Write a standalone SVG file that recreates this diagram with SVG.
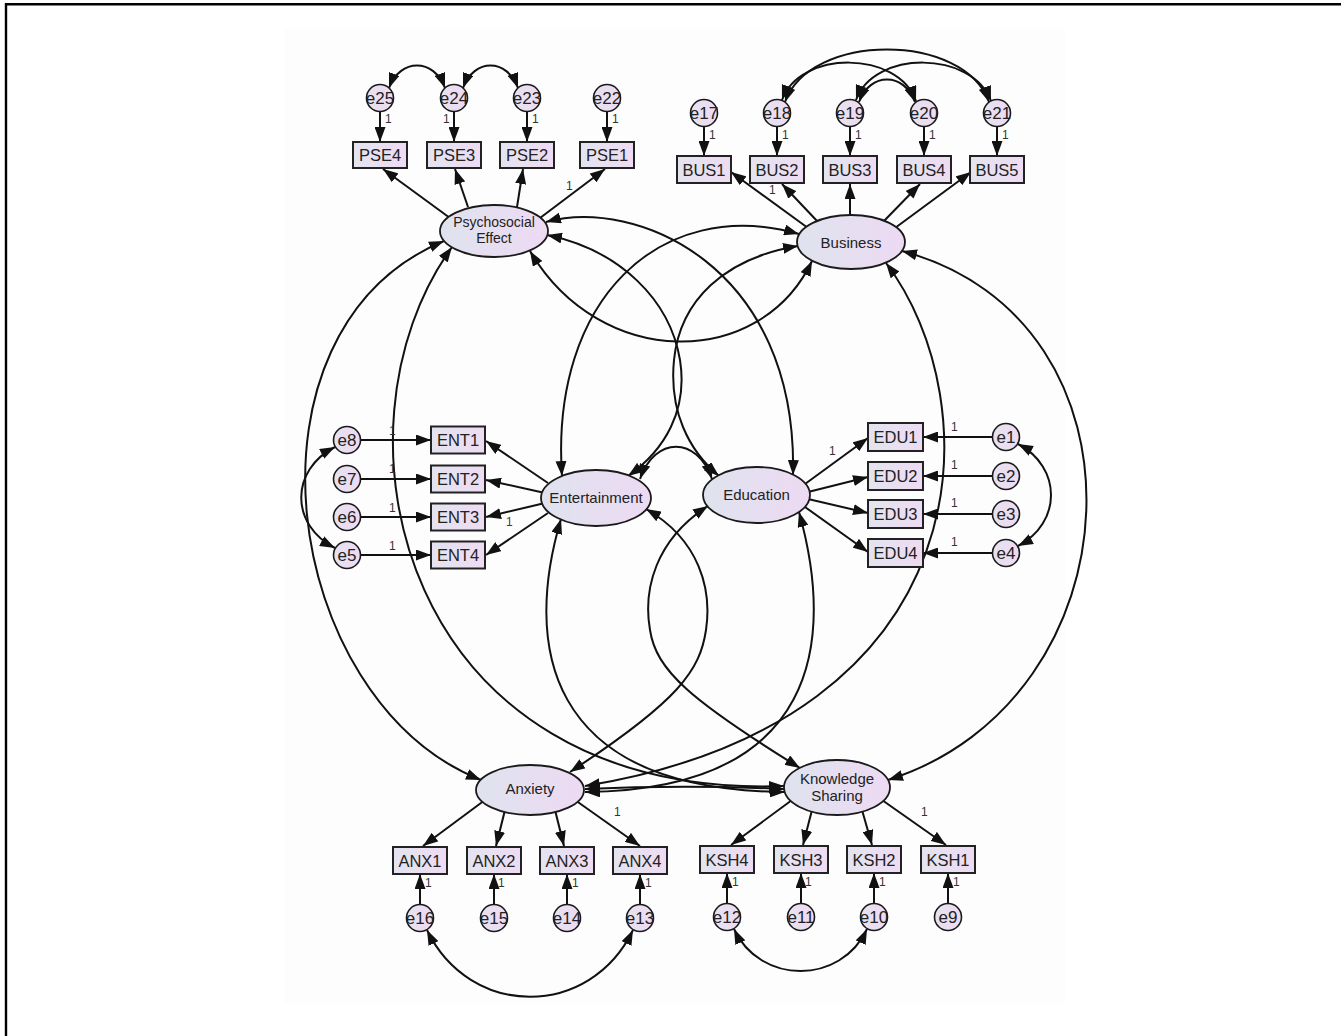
<svg xmlns="http://www.w3.org/2000/svg" width="1341" height="1036" viewBox="0 0 1341 1036">
<style>
.c{fill:none;stroke:#111;stroke-width:2}
.a{marker-end:url(#ah)}
.d{marker-start:url(#ah);marker-end:url(#ah)}
.box{fill:url(#gb);stroke:#222;stroke-width:2}
.lat{fill:url(#gl);stroke:#1a1a1a;stroke-width:1.8}
.err{fill:url(#ge);stroke:#1a1a1a;stroke-width:1.6}
text{font-family:"Liberation Sans",Arial,sans-serif;fill:#222;text-anchor:middle}
.bt{font-size:16.5px}
.et{font-size:17px}
.lt{font-size:15px}
.one{font-size:12px;fill:#333;text-anchor:start}
</style>
<defs>
<linearGradient id="gb" x1="0" x2="1" y1="0" y2="0"><stop offset="0" stop-color="#e3e4ef"/><stop offset="1" stop-color="#eedbf3"/></linearGradient>
<linearGradient id="gl" x1="0" x2="1" y1="0" y2="0"><stop offset="0" stop-color="#dfe3ee"/><stop offset="1" stop-color="#eddaf3"/></linearGradient>
<linearGradient id="ge" x1="0" x2="1" y1="0" y2="0"><stop offset="0" stop-color="#e6e2f0"/><stop offset="1" stop-color="#eedaf2"/></linearGradient>
<marker id="ah" viewBox="0 0 15 11" refX="15" refY="5.5" markerWidth="15" markerHeight="11" markerUnits="userSpaceOnUse" orient="auto-start-reverse"><path d="M0,0 L15,5.5 L0,11 z" fill="#111"/></marker>
</defs>
<rect x="0" y="0" width="1341" height="1036" fill="#fff"/>
<rect x="285" y="29" width="780" height="974" fill="#fdfdfd"/>
<path d="M6,1036 V4.3 H1341" fill="none" stroke="#000" stroke-width="2.4"/>

<g id="connectors">
<path class="c a" d="M380,111.5 V142"/><path class="c a" d="M454,111.5 V142"/><path class="c a" d="M527,111.5 V142"/><path class="c a" d="M607,111.5 V142"/>
<path class="c a" d="M704,126.5 V156"/><path class="c a" d="M777,126.5 V156"/><path class="c a" d="M850,126.5 V156"/><path class="c a" d="M924,126.5 V156"/><path class="c a" d="M997,126.5 V156"/>
<path class="c a" d="M360.5,440 H431"/><path class="c a" d="M360.5,479 H431"/><path class="c a" d="M360.5,517 H431"/><path class="c a" d="M360.5,555 H431"/>
<path class="c a" d="M992.5,437 H923"/><path class="c a" d="M992.5,476 H923"/><path class="c a" d="M992.5,514 H923"/><path class="c a" d="M992.5,553 H923"/>
<path class="c a" d="M420,904.5 V874"/><path class="c a" d="M494,904.5 V874"/><path class="c a" d="M567,904.5 V874"/><path class="c a" d="M640,904.5 V874"/>
<path class="c a" d="M727,903.5 V873"/><path class="c a" d="M801,903.5 V873"/><path class="c a" d="M874,903.5 V873"/><path class="c a" d="M948,903.5 V873"/>
<path class="c a" d="M450,218 L383,169"/><path class="c a" d="M468,207 L455,169"/><path class="c a" d="M517,207 L523,169"/><path class="c a" d="M540,218 L605,169"/>
<path class="c a" d="M808,228 L731,172"/><path class="c a" d="M818,222 L782,184"/><path class="c a" d="M850,218 V184"/><path class="c a" d="M883,222 L920,184"/><path class="c a" d="M895,228 L971,172"/>
<path class="c a" d="M548,483 L486,441"/><path class="c a" d="M545,493 L486,480"/><path class="c a" d="M545,503 L486,517"/><path class="c a" d="M548,513 L486,555"/>
<path class="c a" d="M805,484 L868,438"/><path class="c a" d="M808,492 L868,477"/><path class="c a" d="M808,499 L868,513"/><path class="c a" d="M805,507 L868,552"/>
<path class="c a" d="M485,800 L423,846"/><path class="c a" d="M505,810 L496,846"/><path class="c a" d="M555,810 L564,846"/><path class="c a" d="M575,800 L640,846"/>
<path class="c a" d="M792,800 L731,845"/><path class="c a" d="M812,810 L803,845"/><path class="c a" d="M862,810 L872,845"/><path class="c a" d="M882,800 L946,845"/>
<path class="c d" d="M389,88 C400,58 434,58 445,88"/>
<path class="c d" d="M463,88 C474,58 507,58 518,88"/>
<path class="c d" d="M785,102 C810,32 964,32 989,102"/>
<path class="c d" d="M782,100 C800,50 898,50 916,101"/>
<path class="c d" d="M856,100 C874,50 972,50 991,101"/>
<path class="c d" d="M859,102 C870,72 904,72 915,102"/>
<path class="c d" d="M335,447 C290,470 290,525 335,548"/>
<path class="c d" d="M1018,444 C1062,467 1062,523 1018,546"/>
<path class="c d" d="M427,930 C470,1019 590,1019 633,930"/>
<path class="c d" d="M734,929 C760,985 841,985 867,929"/>
<path class="c d" d="M530,251 C600,370 760,370 812,261"/>
<path class="c d" d="M546,222 C635,197 798,265 793,475"/>
<path class="c d" d="M547,235 C620,250 670,300 680,360 C688,410 665,450 628,476"/>
<path class="c d" d="M798,246 C725,258 680,300 674,360 C669,410 688,450 719,476"/>
<path class="c d" d="M799,234 C660,195 550,300 562,476"/>
<path class="c d" d="M640,479 C655,436 697,436 712,479"/>
<path class="c d" d="M444,241 C230,330 280,700 481,780"/>
<path class="c d" d="M452,247 C320,430 400,800 784,786"/>
<path class="c d" d="M902,251 C1160,320 1140,700 888,780"/>
<path class="c d" d="M886,263 C990,400 990,720 585,786"/>
<path class="c d" d="M799,512 C835,640 820,790 585,792"/>
<path class="c d" d="M561,519 C525,640 540,790 785,792"/>
<path class="c d" d="M646,509 C700,540 712,590 706,630 C700,670 680,700 570,772"/>
<path class="c d" d="M708,506 C655,540 643,590 650,630 C656,670 690,700 800,768"/>
<path class="c d" d="M585,789 C650,786 720,786 784,789"/>
</g>

<g id="PSE"><ellipse class="lat" cx="494" cy="231" rx="54" ry="26"/><text x="494" y="227" style="font-size:14px">Psychosocial</text><text x="494" y="243" style="font-size:14px">Effect</text></g>
<g id="BUS"><ellipse class="lat" cx="851" cy="242" rx="54" ry="27"/><text class="lt" x="851" y="247.5">Business</text></g>
<g id="ENT"><ellipse class="lat" cx="596" cy="498" rx="55" ry="28"/><text class="lt" x="596" y="503">Entertainment</text></g>
<g id="EDU"><ellipse class="lat" cx="756.5" cy="495" rx="53.5" ry="28"/><text class="lt" x="756.5" y="500">Education</text></g>
<g id="ANX"><ellipse class="lat" cx="530" cy="790" rx="54" ry="25"/><text class="lt" x="530" y="794">Anxiety</text></g>
<g id="KSH"><ellipse class="lat" cx="837" cy="787.5" rx="53" ry="27.5"/><text class="lt" x="837" y="784">Knowledge</text><text class="lt" x="837" y="800.5">Sharing</text></g>

<g id="PSE4"><rect class="box" x="353" y="142" width="54" height="26"/><text class="bt" x="380" y="161">PSE4</text></g>
<g id="PSE3"><rect class="box" x="427" y="142" width="54" height="26"/><text class="bt" x="454" y="161">PSE3</text></g>
<g id="PSE2"><rect class="box" x="500" y="142" width="54" height="26"/><text class="bt" x="527" y="161">PSE2</text></g>
<g id="PSE1"><rect class="box" x="580" y="142" width="54" height="26"/><text class="bt" x="607" y="161">PSE1</text></g>
<g id="BUS1"><rect class="box" x="677" y="156" width="54" height="27"/><text class="bt" x="704" y="175.5">BUS1</text></g>
<g id="BUS2"><rect class="box" x="750" y="156" width="54" height="27"/><text class="bt" x="777" y="175.5">BUS2</text></g>
<g id="BUS3"><rect class="box" x="823" y="156" width="54" height="27"/><text class="bt" x="850" y="175.5">BUS3</text></g>
<g id="BUS4"><rect class="box" x="897" y="156" width="54" height="27"/><text class="bt" x="924" y="175.5">BUS4</text></g>
<g id="BUS5"><rect class="box" x="970" y="156" width="54" height="27"/><text class="bt" x="997" y="175.5">BUS5</text></g>
<g id="ENT1"><rect class="box" x="431" y="426.5" width="54" height="27"/><text class="bt" x="458" y="446">ENT1</text></g>
<g id="ENT2"><rect class="box" x="431" y="465.5" width="54" height="27"/><text class="bt" x="458" y="485">ENT2</text></g>
<g id="ENT3"><rect class="box" x="431" y="503.5" width="54" height="27"/><text class="bt" x="458" y="523">ENT3</text></g>
<g id="ENT4"><rect class="box" x="431" y="541.5" width="54" height="27"/><text class="bt" x="458" y="561">ENT4</text></g>
<g id="EDU1"><rect class="box" x="868" y="423" width="55" height="28"/><text class="bt" x="895.5" y="443">EDU1</text></g>
<g id="EDU2"><rect class="box" x="868" y="462" width="55" height="28"/><text class="bt" x="895.5" y="482">EDU2</text></g>
<g id="EDU3"><rect class="box" x="868" y="500" width="55" height="28"/><text class="bt" x="895.5" y="520">EDU3</text></g>
<g id="EDU4"><rect class="box" x="868" y="539" width="55" height="28"/><text class="bt" x="895.5" y="559">EDU4</text></g>
<g id="ANX1"><rect class="box" x="393" y="847" width="54" height="27"/><text class="bt" x="420" y="866.5">ANX1</text></g>
<g id="ANX2"><rect class="box" x="467" y="847" width="54" height="27"/><text class="bt" x="494" y="866.5">ANX2</text></g>
<g id="ANX3"><rect class="box" x="540" y="847" width="54" height="27"/><text class="bt" x="567" y="866.5">ANX3</text></g>
<g id="ANX4"><rect class="box" x="613" y="847" width="54" height="27"/><text class="bt" x="640" y="866.5">ANX4</text></g>
<g id="KSH4"><rect class="box" x="700" y="846" width="54" height="27"/><text class="bt" x="727" y="865.5">KSH4</text></g>
<g id="KSH3"><rect class="box" x="774" y="846" width="54" height="27"/><text class="bt" x="801" y="865.5">KSH3</text></g>
<g id="KSH2"><rect class="box" x="847" y="846" width="54" height="27"/><text class="bt" x="874" y="865.5">KSH2</text></g>
<g id="KSH1"><rect class="box" x="921" y="846" width="54" height="27"/><text class="bt" x="948" y="865.5">KSH1</text></g>

<g id="e25"><circle class="err" cx="380" cy="98" r="13.5"/><text class="et" x="380" y="104">e25</text></g>
<g id="e24"><circle class="err" cx="454" cy="98" r="13.5"/><text class="et" x="454" y="104">e24</text></g>
<g id="e23"><circle class="err" cx="527" cy="98" r="13.5"/><text class="et" x="527" y="104">e23</text></g>
<g id="e22"><circle class="err" cx="607" cy="98" r="13.5"/><text class="et" x="607" y="104">e22</text></g>
<g id="e17"><circle class="err" cx="704" cy="113" r="13.5"/><text class="et" x="704" y="119">e17</text></g>
<g id="e18"><circle class="err" cx="777" cy="113" r="13.5"/><text class="et" x="777" y="119">e18</text></g>
<g id="e19"><circle class="err" cx="850" cy="113" r="13.5"/><text class="et" x="850" y="119">e19</text></g>
<g id="e20"><circle class="err" cx="924" cy="113" r="13.5"/><text class="et" x="924" y="119">e20</text></g>
<g id="e21"><circle class="err" cx="997" cy="113" r="13.5"/><text class="et" x="997" y="119">e21</text></g>
<g id="e8"><circle class="err" cx="347" cy="440" r="13.5"/><text class="et" x="347" y="446">e8</text></g>
<g id="e7"><circle class="err" cx="347" cy="479" r="13.5"/><text class="et" x="347" y="485">e7</text></g>
<g id="e6"><circle class="err" cx="347" cy="517" r="13.5"/><text class="et" x="347" y="523">e6</text></g>
<g id="e5"><circle class="err" cx="347" cy="555" r="13.5"/><text class="et" x="347" y="561">e5</text></g>
<g id="e1"><circle class="err" cx="1006" cy="437" r="13.5"/><text class="et" x="1006" y="443">e1</text></g>
<g id="e2"><circle class="err" cx="1006" cy="476" r="13.5"/><text class="et" x="1006" y="482">e2</text></g>
<g id="e3"><circle class="err" cx="1006" cy="514" r="13.5"/><text class="et" x="1006" y="520">e3</text></g>
<g id="e4"><circle class="err" cx="1006" cy="553" r="13.5"/><text class="et" x="1006" y="559">e4</text></g>
<g id="e16"><circle class="err" cx="420" cy="918" r="13.5"/><text class="et" x="420" y="924">e16</text></g>
<g id="e15"><circle class="err" cx="494" cy="918" r="13.5"/><text class="et" x="494" y="924">e15</text></g>
<g id="e14"><circle class="err" cx="567" cy="918" r="13.5"/><text class="et" x="567" y="924">e14</text></g>
<g id="e13"><circle class="err" cx="640" cy="918" r="13.5"/><text class="et" x="640" y="924">e13</text></g>
<g id="e12"><circle class="err" cx="727" cy="917" r="13.5"/><text class="et" x="727" y="923">e12</text></g>
<g id="e11"><circle class="err" cx="801" cy="917" r="13.5"/><text class="et" x="801" y="923">e11</text></g>
<g id="e10"><circle class="err" cx="874" cy="917" r="13.5"/><text class="et" x="874" y="923">e10</text></g>
<g id="e9"><circle class="err" cx="948" cy="917" r="13.5"/><text class="et" x="948" y="923">e9</text></g>

<g id="labels">
<text class="one" x="385" y="123">1</text><text class="one" x="443" y="123">1</text><text class="one" x="532" y="123">1</text><text class="one" x="612" y="123">1</text><text class="one" x="566" y="190">1</text>
<text class="one" x="709" y="139">1</text><text class="one" x="782" y="139">1</text><text class="one" x="855" y="139">1</text><text class="one" x="929" y="139">1</text><text class="one" x="1002" y="139">1</text><text class="one" x="769" y="194">1</text>
<text class="one" x="389" y="435">1</text><text class="one" x="389" y="473">1</text><text class="one" x="389" y="512">1</text><text class="one" x="389" y="550">1</text><text class="one" x="506" y="526" style="fill:#6b2a2a">1</text>
<text class="one" x="951" y="431">1</text><text class="one" x="951" y="469">1</text><text class="one" x="951" y="507">1</text><text class="one" x="951" y="546">1</text><text class="one" x="829" y="455">1</text>
<text class="one" x="425" y="887">1</text><text class="one" x="498" y="887">1</text><text class="one" x="572" y="887">1</text><text class="one" x="645" y="887">1</text><text class="one" x="614" y="816">1</text>
<text class="one" x="732" y="886">1</text><text class="one" x="805" y="886">1</text><text class="one" x="879" y="886">1</text><text class="one" x="953" y="886">1</text><text class="one" x="921" y="816">1</text>
</g>
</svg>
